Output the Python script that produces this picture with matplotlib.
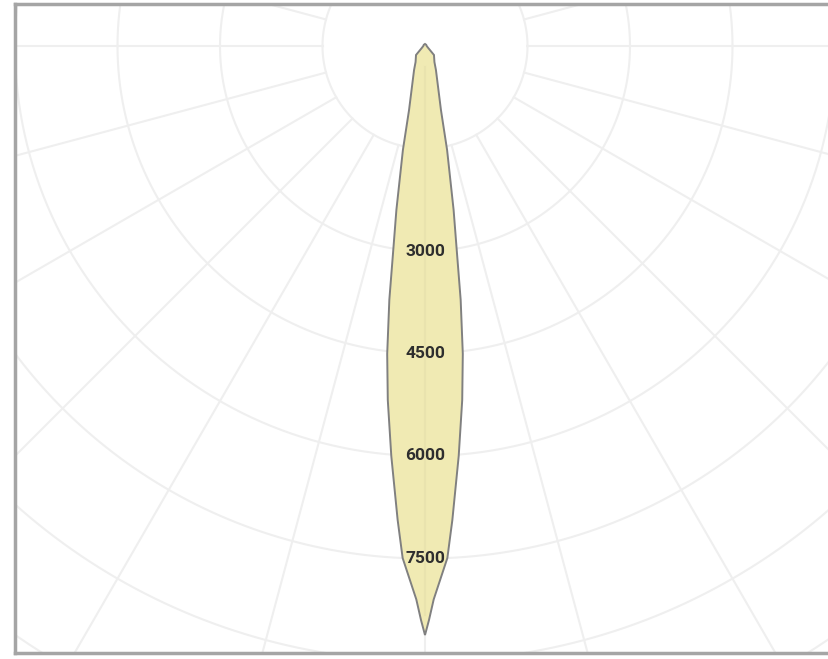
import numpy as np
import matplotlib.pyplot as plt

# luminous intensity (cd) against angle from nadir (deg)
gamma = [0, 0.4, 0.9, 2.5, 3.3, 4.7, 6, 7, 8, 8.8, 9.9, 12, 14, 17, 24.5, 30.5, 45, 60, 90, 135, 180]
intensity = [8620, 8400, 8100, 7500, 6950, 6020, 5210, 4540, 3750, 3050, 2435, 1555, 965, 673,
             386, 272, 186, 52, 25, 25, 30]

ring_labels = [3000, 4500, 6000, 7500]
rings = np.arange(1500, 13501, 1500)
spokes = np.arange(0, 360, 15)

# pixel layout of the reference (829x659), centre of the diagram at (425, 46)
W, H = 829, 659
cx, cy = 425, 46
cd_per_px = 1500 / 102.5
box = (15, 4, 835, 653)  # left, top, right, bottom of the frame

fig = plt.figure(figsize=(W / 100, H / 100), dpi=100)
ax = fig.add_axes([box[0] / W, 1 - box[3] / H, (box[2] - box[0]) / W, (box[3] - box[1]) / H])
ax.set_xlim((box[0] - cx) * cd_per_px, (box[2] - cx) * cd_per_px)
ax.set_ylim(-(box[3] - cy) * cd_per_px, (cy - box[1]) * cd_per_px)

grid_c = '#efefef'
t = np.linspace(0, 2 * np.pi, 721)
for r in rings:
    ax.plot(r * np.cos(t), r * np.sin(t), color=grid_c, lw=1.5, zorder=1)
for a in np.radians(spokes):
    ax.plot([1500 * np.sin(a), 16000 * np.sin(a)], [-1500 * np.cos(a), -16000 * np.cos(a)],
            color=grid_c, lw=1.5, zorder=1)

# curve, mirrored about the vertical axis
g = np.radians(np.array(gamma))
I = np.array(intensity)
xs = np.concatenate([I * np.sin(g), -(I * np.sin(g))[::-1]])
ys = np.concatenate([-I * np.cos(g), (-I * np.cos(g))[::-1]])
ax.fill(xs, ys, facecolor='#f0eab3', edgecolor='#808080', lw=1.4, zorder=2)
# faint nadir line showing through the fill
ax.plot([0, 0], [-300, -max(intensity) + 300], color='#e9e3ae', lw=1.5, zorder=3)

for v in ring_labels:
    ax.text(0, -v, str(v), ha='center', va='center', fontsize=12.5, fontweight='bold',
            family='Roboto', color='#2e2e2e', zorder=4)

ax.set_xticks([])
ax.set_yticks([])
for s in ax.spines.values():
    s.set_color('#a5a5a5')
    s.set_linewidth(2.5)

fig.savefig('out.png', dpi=100)
